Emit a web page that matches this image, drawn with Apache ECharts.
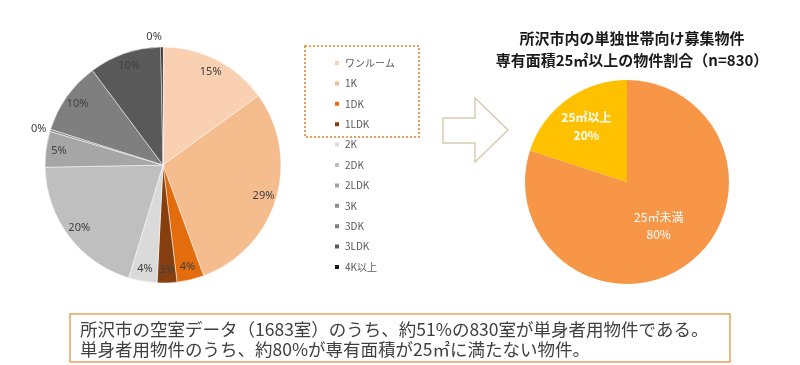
<!DOCTYPE html>
<html><head><meta charset="utf-8">
<script src="https://cdn.jsdelivr.net/npm/echarts@6/dist/echarts.min.js"></script>
<style>html,body{margin:0;padding:0;background:#fff}#c{width:800px;height:365px}</style>
</head><body><div id="c"></div>
<script>
// ---- data ----
const roomTypes = ['ワンルーム','1K','1DK','1LDK','2K','2DK','2LDK','3K','3DK','3LDK','4K以上'];
const roomShares = [15.0, 29.4, 3.7, 2.7, 3.9, 20.0, 4.9, 0.3, 9.9, 9.9, 0.3];
const roomColors = ['#F9D0B1','#F5BC8E','#E36C0D','#86400F','#DADADA','#BFBFBF','#A6A6A6','#8C8C8C','#7F7F7F','#595959','#141414'];
const areaCategories = ['25㎡未満','25㎡以上'];
const areaShares = [80, 20];
const areaColors = ['#F79646','#FFC000'];
const titleLines = ['所沢市内の単独世帯向け募集物件','専有面積25㎡以上の物件割合（n=830）'];
const noteLines = ['所沢市の空室データ（1683室）のうち、約51%の830室が単身者用物件である。','単身者用物件のうち、約80%が専有面積が25㎡に満たない物件。'];

const JP = '"Noto Sans CJK JP", "Noto Sans", sans-serif';
const chart = echarts.init(document.getElementById('c'), null, {renderer:'canvas'});

const leftCenter = [163, 165], leftR = 118;
const rightCenter = [627, 182], rightR = 102;

const leftMain = roomTypes.map((n,i)=>({name:n, value:roomShares[i], itemStyle:{color:roomColors[i]}}));
const leftLabels = roomTypes.map((n,i)=>{
  const small = roomShares[i] < 1;
  const item = {name:n, value:roomShares[i], itemStyle:{color:'rgba(0,0,0,0)'}};
  if (small) {
    item.label = {position:'outside', distanceToLabelLine:0};
    item.labelLine = {show:false, length: i === roomTypes.length-1 ? 10 : 4, length2:0};
  }
  return item;
});

const option = {
  animation:false,
  backgroundColor:'#fff',
  title:{
    text: titleLines.join('\n'),
    left: rightCenter[0], top: 22, textAlign:'center',
    textStyle:{fontFamily:JP, fontSize:15, fontWeight:'bold', color:'#1a1a1a', lineHeight:22}
  },
  legend:{
    orient:'vertical', left:333, top:57, padding:0,
    data: roomTypes, icon:'rect', itemWidth:6, itemHeight:6, itemGap:8.4,
    selectedMode:false,
    textStyle:{fontFamily:JP, fontSize:10, color:'#595959', lineHeight:12}
  },
  series:[
    {type:'pie', center:leftCenter, radius:leftR, startAngle:90, clockwise:true, silent:true,
     avoidLabelOverlap:false, data:leftMain, label:{show:false}, labelLine:{show:false},
     itemStyle:{borderColor:'#fff', borderWidth:0.5}},
    {type:'pie', center:leftCenter, radius:[86, leftR], startAngle:90, clockwise:true, silent:true,
     avoidLabelOverlap:false, data:leftLabels,
     label:{show:true, position:'inside', formatter:p=>Math.round(p.value)+'%',
            fontFamily:'"Noto Sans", sans-serif', fontSize:11, color:'#404040'},
     labelLine:{show:false}, itemStyle:{borderWidth:0}},
    {type:'pie', center:rightCenter, radius:rightR, startAngle:90, clockwise:true, silent:true,
     avoidLabelOverlap:false,
     data: areaCategories.map((n,i)=>({name:n, value:areaShares[i], itemStyle:{color:areaColors[i]},
        label:{show: i===0}})),
     label:{position:'inside', formatter:p=>p.name+'\n'+p.value+'%', color:'#fff',
            fontFamily:JP, fontSize:12, lineHeight:17},
     labelLine:{show:false}},
    {type:'pie', center:rightCenter, radius:[30, rightR], startAngle:90, clockwise:true, silent:true,
     avoidLabelOverlap:false,
     data: areaCategories.map((n,i)=>({name:n, value:areaShares[i], itemStyle:{color:'rgba(0,0,0,0)'},
        label:{show: i===1}})),
     label:{position:'inside', formatter:p=>p.name+'\n'+p.value+'%', color:'#fff',
            fontFamily:JP, fontSize:12, fontWeight:'bold', lineHeight:18},
     labelLine:{show:false}}
  ],
  graphic:[
    {type:'rect', shape:{x:305, y:46, width:114, height:91}, silent:true,
     style:{fill:'none', stroke:'#E8A05C', lineWidth:2, lineDash:[2,2]}},
    {type:'polygon', silent:true,
     shape:{points:[[443,118],[475,118],[475,98],[508,130],[475,162],[475,143],[443,143]]},
     style:{fill:'#fff', stroke:'#D9CBB0', lineWidth:1.5}},
    {type:'rect', shape:{x:70, y:314, width:660, height:48}, silent:true,
     style:{fill:'#fff', stroke:'#E9A15E', lineWidth:1.5}},
    {type:'text', silent:true, style:{text:noteLines[0], x:80, y:329, fill:'#404040',
      font:'17.5px "Noto Sans CJK JP"', verticalAlign:'middle'}},
    {type:'text', silent:true, style:{text:noteLines[1], x:80, y:349, fill:'#404040',
      font:'17.5px "Noto Sans CJK JP"', verticalAlign:'middle'}}
  ]
};
chart.setOption(option);
</script></body></html>
